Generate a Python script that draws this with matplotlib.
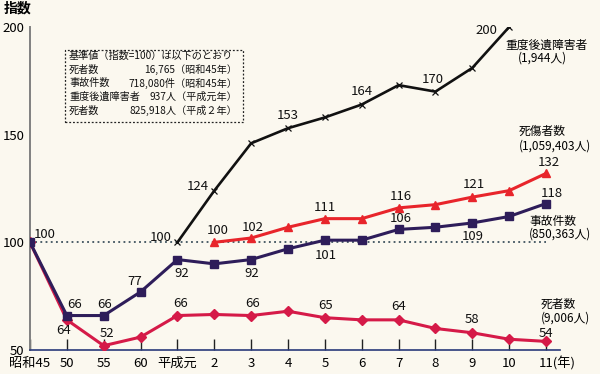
import numpy as np
import matplotlib
matplotlib.use("Agg")
import matplotlib.pyplot as plt
import matplotlib.transforms as mtransforms
from matplotlib.patches import Rectangle

plt.rcParams['font.family'] = ['Noto Sans CJK JP', 'DejaVu Sans']

# ---- data ----
categories = ['昭和45', '50', '55', '60', '平成元', '2', '3', '4', '5', '6', '7', '8', '9', '10', '11(年)']
accidents = [100, 66, 66, 77, 92, 90, 92, 97, 101, 101, 106, 107, 109, 112, 118]          # 事故件数
casualties = [np.nan]*5 + [100, 102, 107, 111, 111, 116, 117.5, 121, 124, 132]             # 死傷者数
deaths = [100, 64, 52, 56, 66, 66.5, 66, 68, 65, 64, 64, 60, 58, 55, 54]                   # 死者数
severe = [np.nan]*4 + [100, 124, 146, 153, 158, 164, 173, 170, 181, 200, np.nan]           # 重度後遺障害者
yticks = [50, 100, 150, 200]

# labelled values: (index, text, dx px, dy px (down positive))
acc_labels = [(0, '100', 15, -8), (1, '66', 8, -11), (2, '66', 1, -11), (3, '77', -6, -10),
              (4, '92', 4, 14), (6, '92', 1, 14), (8, '101', 1, 15), (10, '106', 2, -11),
              (12, '109', 1, 14), (14, '118', 6, -10)]
cas_labels = [(5, '100', 3, -12), (6, '102', 2, -11), (8, '111', 0, -11), (10, '116', 2, -11),
              (12, '121', 2, -13), (14, '132', 3, -11)]
dea_labels = [(1, '64', -3, 11), (2, '52', 3, -12), (4, '66', 3, -12), (6, '66', 1, -12),
              (8, '65', 1, -12), (10, '64', 0, -13), (12, '58', 0, -13), (14, '54', 0, -8)]
sev_labels = [(4, '100', -17, -5), (5, '124', -16, -4), (7, '153', 0, -13), (9, '164', 0, -13),
              (11, '170', -3, -12), (13, '200', -23, 4)]

W, H = 600, 374
bg = '#fbf8ef'
fig = plt.figure(figsize=(W/100, H/100), dpi=100, facecolor=bg)
ax = fig.add_axes([30/W, 1-350/H, 530/W, 323/H])
ax.set_facecolor(bg)

x = np.arange(len(categories))
c_navy = '#2e1d5a'
c_red = '#e8252b'
c_crim = '#d51a48'
c_blk = '#111111'

ax.plot(x, [100]*len(x), linestyle=(0, (1.2, 2.2)), color='#1d3545', lw=1.1, zorder=1)
ax.plot(x, deaths, color=c_crim, lw=2.2, marker='D', ms=5.5, zorder=3)
ax.plot(x, accidents, color=c_navy, lw=2.2, marker='s', ms=5.5, zorder=4)
ax.plot(x, casualties, color=c_red, lw=2.2, marker='^', ms=6, zorder=3)
ax.plot(x, severe, color=c_blk, lw=1.9, marker='x', ms=5, mew=0.9, zorder=5)

ax.set_xlim(0, 14.38)
ax.set_ylim(50, 200)
ax.set_yticks(yticks)
ax.set_yticklabels([str(v) for v in yticks], fontsize=9.5)
ax.set_xticks(x)
ax.set_xticklabels(categories, fontsize=9.5)
ax.tick_params(axis='x', direction='in', length=8, width=1, color='#222222', pad=5)
ax.tick_params(axis='y', direction='in', length=0, pad=4)
for s in ['top', 'right']:
    ax.spines[s].set_visible(False)
ax.spines['left'].set_color('#808080')
ax.spines['left'].set_linewidth(1.4)
ax.spines['bottom'].set_color('#2a3a7a')
ax.spines['bottom'].set_linewidth(1.2)

# shift last tick label so "11" sits on tick
lab = ax.get_xticklabels()[-1]
lab.set_ha('left')
lab.set_transform(lab.get_transform() + mtransforms.ScaledTranslation(-7/100, 0, fig.dpi_scale_trans))

def annotate(series, labels):
    for i, t, dx, dy in labels:
        ax.annotate(t, (x[i], series[i]), xytext=(dx, -dy), textcoords='offset pixels',
                    ha='center', va='center', fontsize=9.5, color='#111111', zorder=6)

annotate(accidents, acc_labels)
annotate(casualties, cas_labels)
annotate(deaths, dea_labels)
annotate(severe, sev_labels)

def ftext(px, py, s, **kw):
    fig.text(px/W, 1-py/H, s, **kw)

ftext(18, 9, '指数', fontsize=10, ha='center', va='center', fontweight='bold')

# series names
ftext(546, 45, '重度後遺障害者', fontsize=8.5, ha='center', va='center')
ftext(542, 58, '(1,944人)', fontsize=8.5, ha='center', va='center')
ftext(519, 131, '死傷者数', fontsize=8.5, ha='left', va='center')
ftext(519, 146, '(1,059,403人)', fontsize=8.5, ha='left', va='center')
ftext(529, 221, '事故件数', fontsize=8.5, ha='left', va='center')
ftext(529, 234, '(850,363人)', fontsize=8.5, ha='left', va='center')
ftext(541, 304, '死者数', fontsize=8.5, ha='left', va='center')
ftext(541, 318, '(9,006人)', fontsize=8.5, ha='left', va='center')

# reference box
fig.add_artist(Rectangle((65/W, 1-122/H), (243-65)/W, (122-50)/H, transform=fig.transFigure,
                         fill=False, edgecolor='#222222', lw=0.9, linestyle=(0, (1.5, 1.5))))
box_left = ['基準値（指数=100）は以下のとおり', '死者数', '事故件数', '重度後遺障害者', '死者数']
box_right = ['', '16,765（昭和45年）', '718,080件（昭和45年）', '937人（平成元年）', '825,918人（平成２年）']
for k, (l, r) in enumerate(zip(box_left, box_right)):
    yy = 56 + k*13.6
    ftext(69, yy, l, fontsize=7.3, ha='left', va='center', color='#111111')
    if r:
        ftext(237, yy, r, fontsize=7.3, ha='right', va='center', color='#111111')

fig.savefig('out.png', dpi=100, facecolor=bg)
